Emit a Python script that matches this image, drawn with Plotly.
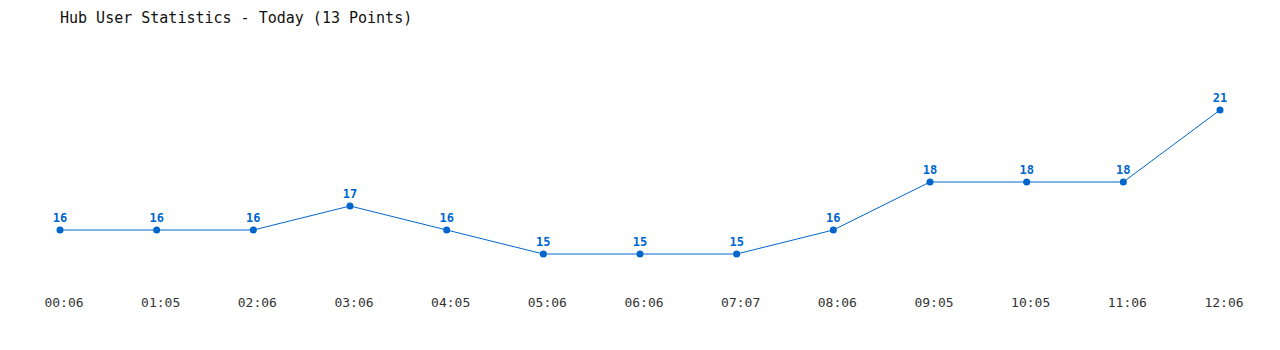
import plotly.graph_objects as go

times = ["00:06", "01:05", "02:06", "03:06", "04:05", "05:06", "06:06",
         "07:07", "08:06", "09:05", "10:05", "11:06", "12:06"]
users = [16, 16, 16, 17, 16, 15, 15, 15, 16, 18, 18, 18, 21]
title_text = "Hub User Statistics - Today (13 Points)"

blue = "#0066CC"
idx = list(range(len(times)))

fig = go.Figure()
fig.add_trace(go.Scatter(
    x=idx, y=users, mode="lines+markers+text",
    line=dict(color=blue, width=1),
    marker=dict(color=blue, size=7),
    text=[str(v) for v in users], textposition="top center",
    textfont=dict(family="DejaVu Sans Mono", size=12, color=blue, weight="bold"),
    hoverinfo="skip",
))

fig.update_layout(
    width=1280, height=350,
    margin=dict(l=0, r=0, t=40, b=55),
    paper_bgcolor="white", plot_bgcolor="white",
    showlegend=False,
    title=dict(text=title_text, x=60/1280, xanchor="left", y=1 - 18/350, yanchor="middle",
               font=dict(family="DejaVu Sans Mono", size=15, color="#111111")),
    xaxis=dict(range=[-60/96.67, 12 + 60/96.67], tickvals=idx, ticktext=times,
               showgrid=False, zeroline=False, showline=False, ticks="",
               ticklabelshift=4, ticklabelstandoff=-2,
               tickfont=dict(family="DejaVu Sans Mono", size=13, color="#333333")),
    yaxis=dict(range=[13.2917, 23.9167], showgrid=False, zeroline=False,
               showline=False, showticklabels=False, ticks=""),
)

fig.write_html("out.html")
